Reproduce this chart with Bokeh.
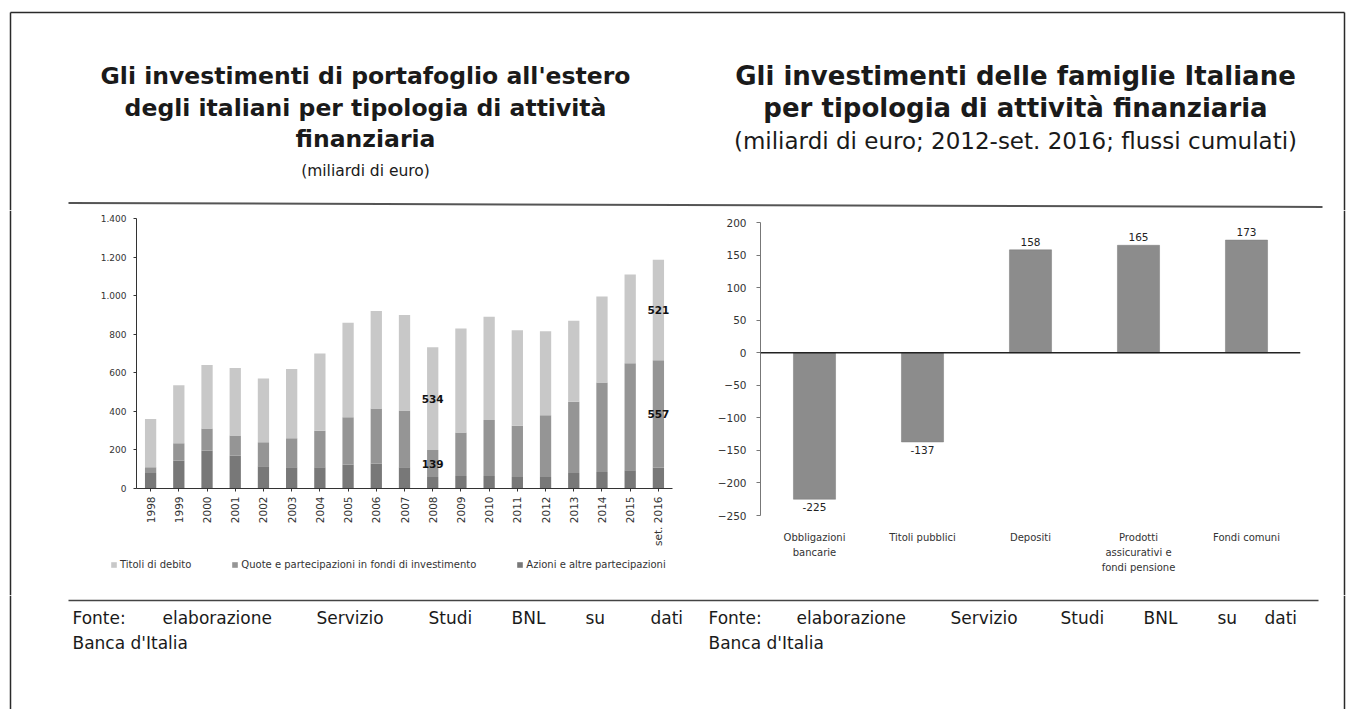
import math
from bokeh.plotting import figure
from bokeh.models import (Range1d, FactorRange, FixedTicker, Span, Legend,
                          LegendItem, ColumnDataSource, CategoricalAxis,
                          CustomJSTickFormatter)
from bokeh.layouts import row, column
from bokeh.embed import file_html
from bokeh.resources import INLINE
from bokeh.core.properties import value

FONT = value("DejaVu Sans")

# ---------------- data: left chart ----------------
anni = ["1998", "1999", "2000", "2001", "2002", "2003", "2004", "2005", "2006",
        "2007", "2008", "2009", "2010", "2011", "2012", "2013", "2014", "2015",
        "set. 2016"]
azioni = [80, 145, 197, 170, 115, 110, 110, 125, 130, 110, 60, 65, 65, 60, 60,
          80, 85, 95, 108]
quote = [30, 90, 114, 105, 125, 150, 190, 245, 285, 295, 139, 225, 290, 265,
         320, 370, 465, 555, 557]
titoli = [250, 300, 330, 350, 330, 360, 400, 490, 505, 495, 534, 540, 535, 495,
          435, 420, 445, 460, 521]
serie_nomi = ["Titoli di debito",
              "Quote e partecipazioni in fondi di investimento",
              "Azioni e altre partecipazioni"]
colori = ["#c8c8c8", "#959595", "#787878"]   # titoli, quote, azioni
tick_sx = [0, 200, 400, 600, 800, 1000, 1200, 1400]
tick_sx_lab = ["0", "200", "400", "600", "800", "1.000", "1.200", "1.400"]
anni_etichettati = ["2008", "set. 2016"]

# ---------------- data: right chart ----------------
categorie = ["Obbligazioni bancarie", "Titoli pubblici", "Depositi",
             "Prodotti assicurativi e fondi pensione", "Fondi comuni"]
categorie_lab = ["Obbligazioni\nbancarie", "Titoli pubblici", "Depositi",
                 "Prodotti\nassicurativi e\nfondi pensione", "Fondi comuni"]
flussi = [-225, -137, 158, 165, 173]
tick_dx = [-250, -200, -150, -100, -50, 0, 50, 100, 150, 200]

# ---------------- texts ----------------
titolo_sx = ["Gli investimenti di portafoglio all'estero",
             "degli italiani per tipologia di attività",
             "finanziaria"]
sottotitolo_sx = "(miliardi di euro)"
titolo_dx = ["Gli investimenti delle famiglie Italiane",
             "per tipologia di attività finanziaria"]
sottotitolo_dx = "(miliardi di euro; 2012-set. 2016; flussi cumulati)"
fonte_parole = ["Fonte:", "elaborazione", "Servizio", "Studi", "BNL", "su", "dati"]
fonte_x_sx = [72, 162, 316, 428, 511, 585, 650]
fonte_x_dx = [708, 796, 950, 1060, 1143, 1217, 1264]
fonte_riga2 = "Banca d'Italia"

BORDER = "#2a2a2a"
RULE = "#555555"


def deco_fig(w, h, x0, x1, y_top, y_bot):
    p = figure(width=w, height=h, x_range=Range1d(x0, x1),
               y_range=Range1d(y_bot, y_top), output_backend="svg",
               toolbar_location=None, min_border=0,
               x_axis_type=None, y_axis_type=None, frame_align=False)
    p.outline_line_color = None
    p.background_fill_color = "white"
    p.border_fill_color = "white"
    return p


# ---------------- header ----------------
head = deco_fig(1358, 210, 0, 1358, 0, 210)
head.segment(x0=[10, 10, 1344], y0=[12, 12, 12], x1=[10, 1344, 1344],
             y1=[210, 12, 210], line_color=BORDER, line_width=1.5)
head.segment(x0=[68], y0=[202.5], x1=[1322], y1=[206.5], line_color=RULE,
             line_width=2)
head.text(x=[365] * 3, y=[75, 107, 138], text=titolo_sx, text_align="center",
          text_baseline="middle", text_font=FONT, text_font_style="bold",
          text_font_size="23.5px", text_color="#1a1a1a")
head.text(x=[365], y=[170], text=[sottotitolo_sx], text_align="center",
          text_baseline="middle", text_font=FONT, text_font_size="15.5px",
          text_color="#1a1a1a")
head.text(x=[1015] * 2, y=[75, 107], text=titolo_dx, text_align="center",
          text_baseline="middle", text_font=FONT, text_font_style="bold",
          text_font_size="26px", text_color="#1a1a1a")
head.text(x=[1015], y=[140], text=[sottotitolo_dx], text_align="center",
          text_baseline="middle", text_font=FONT, text_font_size="23px",
          text_color="#1a1a1a")

# ---------------- edges of middle row ----------------
edge_l = deco_fig(14, 385, 0, 14, 210, 595)
edge_l.segment(x0=[10], y0=[210], x1=[10], y1=[595], line_color=BORDER,
               line_width=1.5)
edge_r = deco_fig(28, 385, 1330, 1358, 210, 595)
edge_r.segment(x0=[1344], y0=[210], x1=[1344], y1=[595], line_color=BORDER,
               line_width=1.5)

# ---------------- left chart ----------------
src_l = ColumnDataSource(dict(anno=anni, azioni=azioni, quote=quote,
                              titoli=titoli))
pl = figure(width=676, height=345, x_range=FactorRange(factors=anni),
            y_range=Range1d(0, 1400), output_backend="svg",
            toolbar_location=None, min_border_left=122, min_border_right=18,
            min_border_top=8, min_border_bottom=67, frame_align=False)
pl.outline_line_color = None
pl.xgrid.grid_line_color = None
pl.ygrid.grid_line_color = None
rs = pl.vbar_stack(["azioni", "quote", "titoli"], x="anno", width=0.4,
                   source=src_l, color=[colori[2], colori[1], colori[0]],
                   line_color=None)
pl.yaxis.ticker = FixedTicker(ticks=tick_sx)
pl.yaxis.major_label_overrides = {t: s for t, s in zip(tick_sx, tick_sx_lab)}
pl.yaxis.minor_tick_line_color = None
pl.yaxis.major_tick_in = 0
pl.yaxis.major_tick_out = 3
pl.yaxis.axis_line_color = "#333333"
pl.yaxis.major_tick_line_color = "#333333"
pl.yaxis.major_label_text_font = "DejaVu Sans"
pl.yaxis.major_label_text_font_size = "9px"
pl.yaxis.major_label_text_color = "#333333"
pl.yaxis.major_label_standoff = 7
pl.xaxis.major_label_orientation = math.pi / 2
pl.xaxis.major_label_text_font = "DejaVu Sans"
pl.xaxis.major_label_text_font_size = "10.5px"
pl.xaxis.major_label_text_color = "#333333"
pl.xaxis.axis_line_color = "#333333"
pl.xaxis.major_tick_line_color = "#333333"
pl.xaxis.major_tick_in = 0
pl.xaxis.major_tick_out = 3
pl.xaxis.major_label_standoff = 5

lab_x, lab_y, lab_t = [], [], []
for a in anni_etichettati:
    i = anni.index(a)
    lab_x += [a, a]
    lab_y += [azioni[i] + quote[i] / 2, azioni[i] + quote[i] + titoli[i] / 2]
    lab_t += [str(quote[i]), str(titoli[i])]
pl.text(x=lab_x, y=lab_y, text=lab_t, text_align="center",
        text_baseline="middle", text_font=FONT, text_font_style="bold",
        text_font_size="10.5px", text_color="#111111")

# legend strip below the left chart (legend-only renderers carry no marks)
leg_fig = figure(width=676, height=40, x_range=Range1d(0, 1),
                 y_range=Range1d(0, 1), output_backend="svg",
                 toolbar_location=None, min_border=0, x_axis_type=None,
                 y_axis_type=None, frame_align=False)
leg_fig.outline_line_color = None
leg_items = []
for nome, col in zip(serie_nomi, colori):
    r = leg_fig.vbar(x=[math.nan], top=[math.nan], width=0.4,
                     fill_color=col, line_color=None)
    leg_items.append(LegendItem(label=nome, renderers=[r]))
leg = Legend(items=leg_items, orientation="horizontal", location=(96, 25))
leg.background_fill_alpha = 0
leg.border_line_color = None
leg.padding = 0
leg.margin = 0
leg.spacing = 40
leg.glyph_width = 7
leg.glyph_height = 7
leg.label_standoff = 3
leg.label_height = 9
leg.label_text_font = "DejaVu Sans"
leg.label_text_font_size = "10px"
leg.label_text_color = "#333333"
leg_fig.add_layout(leg, "center")

# ---------------- right chart ----------------
src_r = ColumnDataSource(dict(cat=categorie, val=flussi,
                              lab=[str(v) for v in flussi]))
pr = figure(width=640, height=385, x_range=FactorRange(factors=categorie),
            y_range=Range1d(-250, 200), output_backend="svg",
            toolbar_location=None, min_border_left=70, min_border_right=30,
            min_border_top=12, min_border_bottom=80, frame_align=False)
pr.outline_line_color = None
pr.xgrid.grid_line_color = None
pr.ygrid.grid_line_color = None
pr.vbar(x="cat", top="val", width=0.39, source=src_r, fill_color="#8c8c8c",
        line_color="#7a7a7a", line_width=0.5)
pr.add_layout(Span(location=0, dimension="width", line_color="#222222",
                   line_width=1.5))
pos = [i for i, v in enumerate(flussi) if v >= 0]
neg = [i for i, v in enumerate(flussi) if v < 0]
pr.text(x=[categorie[i] for i in pos], y=[flussi[i] for i in pos],
        text=[str(flussi[i]) for i in pos], text_align="center",
        text_baseline="bottom", y_offset=-4, text_font=FONT,
        text_font_size="10.5px", text_color="#222222")
pr.text(x=[categorie[i] for i in neg], y=[flussi[i] for i in neg],
        text=[str(flussi[i]) for i in neg], text_align="center",
        text_baseline="top", y_offset=4, text_font=FONT,
        text_font_size="10.5px", text_color="#222222")
pr.yaxis.ticker = FixedTicker(ticks=tick_dx)
pr.yaxis.minor_tick_line_color = None
pr.yaxis.major_tick_in = 0
pr.yaxis.major_tick_out = 4
pr.yaxis.axis_line_color = "#777777"
pr.yaxis.major_tick_line_color = "#777777"
pr.yaxis.major_label_text_font = "DejaVu Sans"
pr.yaxis.major_label_text_font_size = "10.5px"
pr.yaxis.major_label_text_color = "#333333"
pr.yaxis.major_label_standoff = 10

# category labels: one categorical axis per text line
righe = [c.split("\n") for c in categorie_lab]
n_righe = max(len(r) for r in righe)
pr.xaxis.visible = False
for k in range(n_righe):
    mappa = {c: (r[k] if k < len(r) else "") for c, r in zip(categorie, righe)}
    ax = CategoricalAxis()
    ax.formatter = CustomJSTickFormatter(args=dict(m=mappa),
                                         code="const v = m[tick]; return v === undefined ? '' : v;")
    ax.axis_line_color = None
    ax.major_tick_line_color = None
    ax.major_tick_out = 0
    ax.major_tick_in = 0
    ax.major_label_text_font = "DejaVu Sans"
    ax.major_label_text_font_size = "10px"
    ax.major_label_text_color = "#333333"
    ax.major_label_standoff = 16 if k == 0 else 1
    pr.add_layout(ax, "below")

# ---------------- footer ----------------
foot = deco_fig(1358, 114, 0, 1358, 595, 709)
foot.segment(x0=[10, 1344], y0=[595, 595], x1=[10, 1344], y1=[709, 709],
             line_color=BORDER, line_width=1.5)
foot.segment(x0=[68], y0=[600], x1=[1318], y1=[600], line_color="#444444",
             line_width=1.5)
foot.text(x=fonte_x_sx + fonte_x_dx, y=[617] * 14,
          text=fonte_parole + fonte_parole, text_align="left",
          text_baseline="middle", text_font=FONT, text_font_size="17px",
          text_color="#1a1a1a")
foot.text(x=[72, 708], y=[642, 642], text=[fonte_riga2, fonte_riga2],
          text_align="left", text_baseline="middle", text_font=FONT,
          text_font_size="17px", text_color="#1a1a1a")

layout = column(head, row(edge_l, column(pl, leg_fig), pr, edge_r), foot)
open("out.html", "w").write(file_html(layout, INLINE))
